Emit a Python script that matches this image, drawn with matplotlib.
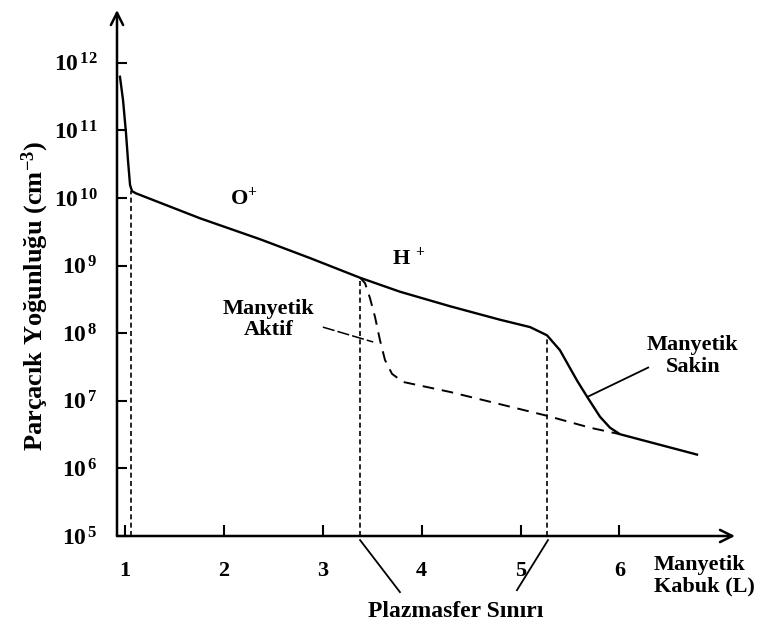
import matplotlib
matplotlib.use("Agg")
import matplotlib.pyplot as plt

plt.rcParams["font.family"] = ["Liberation Serif", "DejaVu Serif"]
plt.rcParams["font.weight"] = "bold"
plt.rcParams["mathtext.fontset"] = "custom"
plt.rcParams["mathtext.rm"] = "Liberation Serif:bold"
plt.rcParams["mathtext.it"] = "Liberation Serif:bold:italic"
plt.rcParams["mathtext.bf"] = "Liberation Serif:bold"

# solid curve (Manyetik Sakin), L shell vs density (cm^-3)
L_sakin = [0.949, 0.980, 1.010, 1.030, 1.051, 1.071, 1.111, 1.759, 2.366, 2.871,
           3.377, 3.781, 4.287, 4.792, 5.096, 5.267, 5.398, 5.570, 5.672, 5.803,
           5.904, 6.005, 6.784]
n_sakin = [6.2e11, 2.8e11, 9.1e10, 3.6e10, 1.55e10, 1.26e10, 1.17e10, 5.0e9, 2.45e9, 1.29e9,
           6.6e8, 4.1e8, 2.5e8, 1.58e8, 1.23e8, 9.3e7, 5.6e7, 2.0e7, 1.15e7, 5.8e6,
           4.0e6, 3.2e6, 1.6e6]

# dashed curve (Manyetik Aktif)
L_aktif = [3.377, 3.427, 3.477, 3.528, 3.578, 3.629, 3.700, 3.811, 4.287, 4.792,
           5.267, 5.702, 6.005]
n_aktif = [6.6e8, 5.5e8, 3.3e8, 1.74e8, 7.9e7, 4.0e7, 2.5e7, 1.9e7, 1.35e7, 8.9e6,
           6.0e6, 4.0e6, 3.2e6]

# dotted vertical markers
L_lines = [1.06, 3.377, 5.267]
n_lines = [1.26e10, 6.6e8, 9.3e7]

x_ticks = [1, 2, 3, 4, 5, 6]
y_exps = [5, 6, 7, 8, 9, 10, 11, 12]

fig = plt.figure(figsize=(7.61, 6.26), dpi=100)
ax = fig.add_axes([117 / 761, 1 - 536 / 626, 618 / 761, 526 / 626])

ax.plot(L_sakin, n_sakin, color="black", lw=1.7)
ax.plot(L_aktif, n_aktif, color="black", lw=1.4, dashes=(6, 4))
ax.vlines(L_lines, 1e5, n_lines, color="black", lw=1.2, linestyles=(0, (3, 2)))

ax.set_yscale("log")
ax.set_xlim(0.919, 7.168)
ax.set_ylim(1e5, 10 ** 12.78)
ax.set_xticks(x_ticks)
ax.set_xticklabels([str(v) for v in x_ticks])
ax.set_yticks([10.0 ** e for e in y_exps])
ax.set_yticklabels(["10$^{\\,%d}$" % e for e in y_exps])
ax.minorticks_off()
ax.tick_params(axis="both", direction="in", width=1.5, labelsize=17)
ax.tick_params(axis="x", length=8, pad=18, labelsize=16)
ax.tick_params(axis="y", length=7, pad=14)

for s in ax.spines.values():
    s.set_visible(False)
arrow = dict(arrowstyle="->", lw=1.8, color="black", mutation_scale=22, shrinkA=0, shrinkB=0)
ax.annotate("", xy=(1.0, 0), xytext=(0, 0), xycoords="axes fraction", arrowprops=arrow)
ax.annotate("", xy=(0, 1.0), xytext=(0, 0), xycoords="axes fraction", arrowprops=arrow)

fig.text(35 / 761, 1 - 296 / 626, "Parçacık Yoğunluğu (cm$^{-3}$)", rotation=90,
         ha="center", va="center", fontsize=19)

ax.text(2.2, 1.0e10, "O$^{+}$", ha="center", va="center", fontsize=16)
ax.text(3.87, 1.3e9, "H $^{+}$", ha="center", va="center", fontsize=16)
ax.text(2.45, 1.6e8, "Manyetik\nAktif", ha="center", va="center", fontsize=16,
        multialignment="center", linespacing=1.1)
ax.plot([3.0, 3.51], [1.23e8, 7.4e7], color="black", lw=1.1, dashes=(8, 2))
ax.text(6.74, 4.6e7, "Manyetik\nSakin", ha="center", va="center", fontsize=16,
        multialignment="center", linespacing=1.1)
ax.plot([6.29, 5.68], [3.1e7, 1.15e7], color="black", lw=1.3)

ax.plot([3.377, 3.78], [8.7e4, 1.48e4], color="black", lw=1.3, clip_on=False)
ax.plot([5.277, 4.963], [8.7e4, 1.58e4], color="black", lw=1.3, clip_on=False)
ax.text(4.34, 7.6e3, "Plazmasfer Sınırı", ha="center", va="center", fontsize=17,
        clip_on=False)
ax.text(6.35, 2.6e4, "Manyetik\nKabuk (L)", ha="left", va="center", fontsize=16,
        linespacing=1.1, clip_on=False)

fig.savefig("out.png", dpi=100)
